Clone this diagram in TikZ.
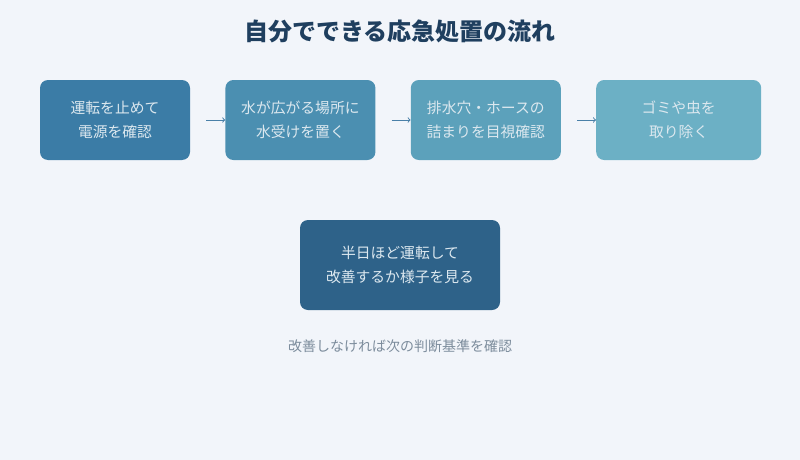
\documentclass[tikz,border=0pt]{standalone}
\usepackage{fontspec}
\setmainfont{Noto Sans CJK JP}
\usetikzlibrary{positioning,arrows}

\definecolor{bgcol}{HTML}{F2F5FA}
\definecolor{titlecol}{HTML}{1F3F5F}
\definecolor{stepa}{HTML}{3B7CA6}
\definecolor{stepb}{HTML}{4B8FB1}
\definecolor{stepc}{HTML}{5CA1BB}
\definecolor{stepd}{HTML}{6CB0C5}
\definecolor{checkcol}{HTML}{2E6289}
\definecolor{arrowcol}{HTML}{4A80A8}
\definecolor{notecol}{HTML}{7C8C9C}

\tikzset{flowbox/.style={
			  rectangle,
			  rounded corners = 8pt,
			  minimum width   = 150pt,
			  minimum height  = 80pt,
			  draw            = none,
			  text            = white!82!stepa,
			  align           = center,
			  font            = \fontsize{14.8}{24}\selectfont
			}}
\tikzset{flowarrow/.style={
			  ->,
			  draw            = arrowcol,
			  line width      = 1pt,
			  shorten <=16pt
			}}

\begin{document}
\begin{tikzpicture}[x=1pt, y=1pt, node distance=35pt, >=to]

    \fill [bgcol] (0,0) rectangle (800,-460);
    \useasboundingbox (0,0) rectangle (800,-460);

    \node (title)  at (400,-31) [text=titlecol, font=\fontsize{24}{28}\selectfont\bfseries]
                   {自分でできる応急処置の流れ};

    \node (power)  at (115,-120) [flowbox, fill=stepa]        {運転を止めて\\電源を確認};
    \node (bucket) [flowbox, fill=stepb, right=of power]      {水が広がる場所に\\水受けを置く};
    \node (drain)  [flowbox, fill=stepc, right=of bucket]     {排水穴・ホースの\\詰まりを目視確認};
    \node (dust)   [flowbox, fill=stepd, right=of drain, minimum width=165pt] {ゴミや虫を\\取り除く};

    \node (wait)   at (400,-265) [flowbox, fill=checkcol, minimum width=200pt, minimum height=90pt]
                   {半日ほど運転して\\改善するか様子を見る};
    \node (note)   [below=26pt of wait, text=notecol, font=\fontsize{14}{16}\selectfont]
                   {改善しなければ次の判断基準を確認};

    \draw [flowarrow] (power)  to (bucket);
    \draw [flowarrow] (bucket) to (drain);
    \draw [flowarrow] (drain)  to (dust);

\end{tikzpicture}
\end{document}
